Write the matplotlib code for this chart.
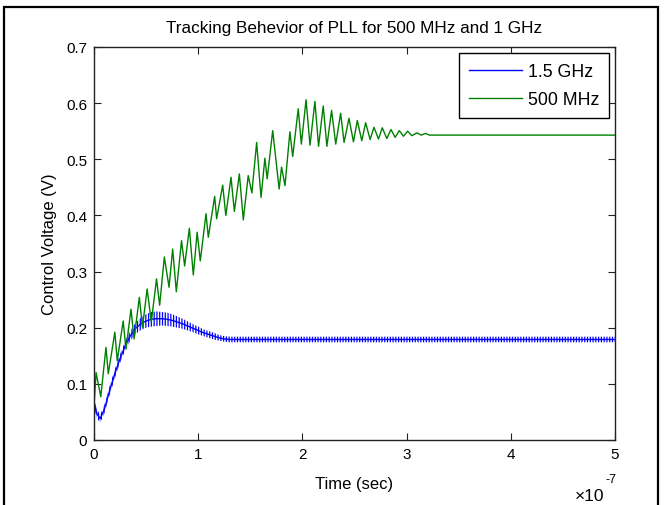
import matplotlib.pyplot as plt
from matplotlib.patches import Rectangle

# time axis in units of 1e-7 s
green_t = [0.000, 0.020, 0.065, 0.115, 0.137, 0.200, 0.223, 0.280, 0.307, 0.355,
           0.385, 0.435, 0.465, 0.510, 0.550, 0.600, 0.630, 0.675, 0.720, 0.755,
           0.790, 0.840, 0.870, 0.915, 0.953, 0.990, 1.020, 1.075, 1.097, 1.158,
           1.177, 1.235, 1.265, 1.315, 1.347, 1.395, 1.433, 1.480, 1.515, 1.561,
           1.603, 1.640, 1.662, 1.715, 1.777, 1.800, 1.833, 1.880, 1.907, 1.960,
           1.990, 2.035, 2.073, 2.120, 2.155, 2.200, 2.235, 2.280, 2.320, 2.367,
           2.400, 2.447, 2.490, 2.527, 2.570, 2.607, 2.650, 2.687, 2.730, 2.767,
           2.810, 2.850, 2.890, 2.930, 2.970, 3.010, 3.050, 3.100, 3.140, 3.180,
           3.220, 3.300, 5.000]
green_v = [0.060, 0.120, 0.077, 0.165, 0.118, 0.192, 0.141, 0.212, 0.162, 0.233,
           0.180, 0.254, 0.201, 0.269, 0.210, 0.287, 0.240, 0.326, 0.272, 0.340,
           0.264, 0.355, 0.310, 0.377, 0.294, 0.370, 0.319, 0.403, 0.361, 0.434,
           0.394, 0.454, 0.400, 0.468, 0.407, 0.474, 0.392, 0.471, 0.440, 0.530,
           0.432, 0.502, 0.465, 0.551, 0.447, 0.486, 0.453, 0.549, 0.505, 0.590,
           0.527, 0.606, 0.525, 0.603, 0.523, 0.595, 0.523, 0.587, 0.527, 0.582,
           0.530, 0.573, 0.531, 0.569, 0.533, 0.565, 0.535, 0.557, 0.536, 0.556,
           0.537, 0.553, 0.539, 0.551, 0.541, 0.550, 0.542, 0.547, 0.543, 0.546,
           0.543, 0.543, 0.543]

# 1.5 GHz trace: fast ripple, kept as centre line plus ripple band
blue_t = [0.00, 0.03, 0.06, 0.10, 0.15, 0.20, 0.25, 0.30, 0.35, 0.40,
          0.45, 0.50, 0.55, 0.60, 0.65, 0.70, 0.75, 0.80, 0.85, 0.90,
          0.95, 1.00, 1.05, 1.10, 1.15, 1.20, 1.25, 1.30, 1.40, 1.60,
          2.00, 3.00, 4.00, 5.00]
blue_mid = [0.065, 0.046, 0.038, 0.055, 0.088, 0.118, 0.145, 0.168, 0.186, 0.199,
            0.207, 0.212, 0.215, 0.216, 0.216, 0.215, 0.213, 0.210, 0.207, 0.203,
            0.199, 0.195, 0.191, 0.188, 0.185, 0.182, 0.180, 0.179, 0.179, 0.179,
            0.179, 0.179, 0.179, 0.179]
blue_lo = [0.057, 0.038, 0.031, 0.047, 0.080, 0.110, 0.137, 0.160, 0.177, 0.189,
           0.196, 0.200, 0.202, 0.203, 0.204, 0.203, 0.202, 0.200, 0.198, 0.195,
           0.192, 0.188, 0.185, 0.182, 0.179, 0.177, 0.175, 0.174, 0.174, 0.174,
           0.174, 0.174, 0.174, 0.174]
blue_hi = [0.073, 0.054, 0.045, 0.063, 0.096, 0.126, 0.153, 0.176, 0.195, 0.209,
           0.218, 0.224, 0.228, 0.229, 0.228, 0.227, 0.224, 0.220, 0.216, 0.211,
           0.206, 0.202, 0.197, 0.194, 0.191, 0.187, 0.185, 0.184, 0.184, 0.184,
           0.184, 0.184, 0.184, 0.184]

x_ticks = [0, 1, 2, 3, 4, 5]
y_ticks = [0, 0.1, 0.2, 0.3, 0.4, 0.5, 0.6, 0.7]
y_labels = ['0', '0.1', '0.2', '0.3', '0.4', '0.5', '0.6', '0.7']

plt.rcParams['font.family'] = ['Liberation Sans', 'DejaVu Sans']
plt.rcParams['hatch.linewidth'] = 0.9

fig = plt.figure(figsize=(6.7, 5.06), dpi=100)
ax = fig.add_axes([0.1403, 0.1285, 0.7776, 0.7767])

# ripple band drawn as vertical hatch, like the fast oscillation in the original
ax.fill_between(blue_t, blue_lo, blue_hi, facecolor='none', edgecolor='#0000ff',
                hatch='||||||', linewidth=0)
ax.plot(blue_t, blue_mid, color='#0000ff', lw=1, label='1.5 GHz')
ax.plot(green_t, green_v, color='#008000', lw=1, label='500 MHz')

ax.set_xlim(0, 5)
ax.set_ylim(0, 0.7)
ax.set_xticks(x_ticks)
ax.set_xticklabels([str(t) for t in x_ticks])
ax.set_yticks(y_ticks)
ax.set_yticklabels(y_labels)
ax.tick_params(direction='in', top=True, right=True, length=5, width=0.8,
               labelsize=11, colors='#222222', labelcolor='black', pad=5)
for s in ax.spines.values():
    s.set_color('#222222')
    s.set_linewidth(1.0)

ax.set_title('Tracking Behevior of PLL for 500 MHz and 1 GHz', fontsize=12.3, pad=11)
ax.set_xlabel('Time (sec)', fontsize=12, labelpad=11)
ax.set_ylabel('Control Voltage (V)', fontsize=12, labelpad=6.5)

leg = ax.legend(loc='upper right', fontsize=12.8, handlelength=3.0,
                handletextpad=0.3, fancybox=False, framealpha=1,
                edgecolor='black', borderaxespad=0.35, labelspacing=0.62,
                borderpad=0.55)
leg.get_frame().set_linewidth(1.0)

# MATLAB style exponent under the x axis
fig.text(604 / 670, 1 - 497 / 506, '\u00d710', ha='right', va='center', fontsize=12.5)
fig.text(606 / 670, 1 - 480 / 506, '-7', ha='left', va='center', fontsize=9)

# outer frame of the screenshot
fig.patches.append(Rectangle((4 / 670, -0.05), 654 / 670, 1 - 8 / 506 + 0.05,
                             transform=fig.transFigure, fill=False,
                             edgecolor='black', linewidth=1.6))

fig.savefig('out.png', dpi=100)
